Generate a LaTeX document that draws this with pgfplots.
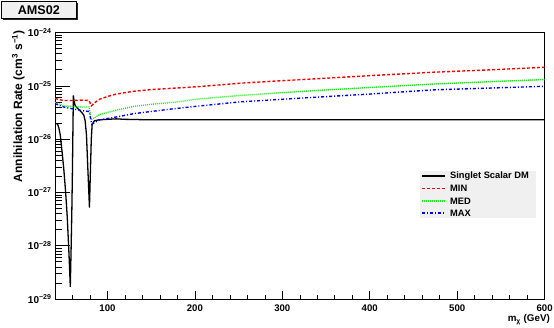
\documentclass[border=0pt]{standalone}
\usepackage{fontspec}
\setmainfont{Liberation Sans}
\usepackage{pgfplots}
\pgfplotsset{compat=1.18}
\definecolor{rootgreen}{RGB}{20,240,20}
\definecolor{paneback}{RGB}{240,240,240}
\begin{document}
\begin{tikzpicture}
\useasboundingbox (0pt,0pt) rectangle (554pt,328pt);
\begin{axis}[
  at={(55pt,29pt)}, anchor=south west,
  scale only axis, width=489.6pt, height=266.5pt,
  xmin=40, xmax=600, ymode=log, ymin=1e-29, ymax=1e-24,
  axis line style={black, line width=0.8pt},
  tick align=inside, xtick pos=bottom, ytick pos=left,
  xtick={100,200,300,400,500,600},
  minor xtick={60,80,120,140,160,180,220,240,260,280,320,340,360,380,420,440,460,480,520,540,560,580},
  ytick={1e-29,1e-28,1e-27,1e-26,1e-25,1e-24},
  yticklabels={10\textsuperscript{−29},10\textsuperscript{−28},10\textsuperscript{−27},10\textsuperscript{−26},10\textsuperscript{−25},10\textsuperscript{−24}},
  minor ytick={2e-29,3e-29,4e-29,5e-29,6e-29,7e-29,8e-29,9e-29,
               2e-28,3e-28,4e-28,5e-28,6e-28,7e-28,8e-28,9e-28,
               2e-27,3e-27,4e-27,5e-27,6e-27,7e-27,8e-27,9e-27,
               2e-26,3e-26,4e-26,5e-26,6e-26,7e-26,8e-26,9e-26,
               2e-25,3e-25,4e-25,5e-25,6e-25,7e-25,8e-25,9e-25},
  x tick style={black, line width=0.6pt, /pgfplots/major tick length=8pt, /pgfplots/minor tick length=4pt},
  y tick style={black, line width=0.6pt, /pgfplots/major tick length=14.6pt, /pgfplots/minor tick length=7.3pt},
  xticklabel style={font=\bfseries\fontsize{9.6}{11}\selectfont, yshift=-2.5pt},
  yticklabel style={font=\bfseries\fontsize{10}{12}\selectfont},
  /pgf/number format/assume math mode=true,
  scaled x ticks=false,
]
\addplot[black, line width=1.3pt] coordinates {
(40,1.95e-26) (42,1.95e-26) (43,1.9e-26) (44.5,1.6e-26) (46,1.2e-26) (48,6e-27)
(50,2.8e-27) (52,1.1e-27) (54,3.5e-28) (56,7e-29) (57.5,1.7e-29) (58.5,1e-28)
(59.3,5e-28) (60,3e-27) (60.5,1.5e-26) (61,6.6e-26) (61.8,5.2e-26) (63,4.3e-26)
(65,3.9e-26) (68,3.5e-26) (71,3.1e-26) (73,2.8e-26) (74.5,2.2e-26) (76,1.2e-26)
(77.5,3e-27) (79.4,5.2e-28) (80.5,2.5e-27) (81.5,1e-26) (82.5,1.9e-26) (85,2.2e-26)
(90,2.3e-26) (100,2.35e-26) (110,2.4e-26) (120,2.35e-26) (150,2.3e-26) (200,2.3e-26)
(300,2.3e-26) (400,2.3e-26) (500,2.3e-26) (600,2.3e-26)};
\addplot[color=red, line width=1.4pt, dash pattern=on 3pt off 2pt] coordinates {
(40,5.8e-26) (45,5.5e-26) (50,5.3e-26) (60,5.3e-26) (72,5.4e-26) (79,5.3e-26)
(81.5,4.2e-26) (86,4.9e-26) (91,5.6e-26) (100,6.3e-26) (110,7.0e-26) (130,7.9e-26)
(150,8.5e-26) (175,9.0e-26) (206,9.7e-26) (252,1.12e-25) (300,1.25e-25) (330,1.33e-25)
(400,1.55e-25) (473,1.8e-25) (540,2.0e-25) (600,2.23e-25)};
\addplot[color=rootgreen, line width=1.4pt, dash pattern=on 1pt off 1pt] coordinates {
(40,4.9e-26) (45,4.5e-26) (50,4.2e-26) (60,4.1e-26) (72,4.0e-26) (79,4.0e-26)
(81.5,2.3e-26) (91,2.9e-26) (110,3.5e-26) (130,4.1e-26) (150,4.5e-26) (175,4.9e-26)
(206,5.7e-26) (252,6.6e-26) (330,8.0e-26) (400,9.3e-26) (473,1.08e-25) (540,1.2e-25)
(600,1.31e-25)};
\addplot[color=blue, line width=1.4pt, dash pattern=on 3pt off 2pt on 1pt off 2pt] coordinates {
(40,4.6e-26) (45,4.3e-26) (50,4.0e-26) (60,3.7e-26) (72,3.4e-26) (79,3.3e-26)
(82,1.9e-26) (91,2.3e-26) (110,2.6e-26) (130,3.0e-26) (150,3.3e-26) (175,3.7e-26)
(206,4.2e-26) (252,5.0e-26) (330,6.0e-26) (400,7.0e-26) (473,8.4e-26) (540,9.1e-26)
(600,9.8e-26)};
\end{axis}
% legend
\fill[paneback] (420pt,110pt) rectangle (536pt,157pt);
\draw[black, line width=1.2pt] (422pt,152pt) -- (445pt,152pt);
\draw[red, line width=1.2pt, dash pattern=on 3pt off 2pt] (422pt,139.5pt) -- (445pt,139.5pt);
\draw[rootgreen, line width=1.2pt, dash pattern=on 1pt off 1pt] (422pt,127pt) -- (445pt,127pt);
\draw[blue, line width=1.2pt, dash pattern=on 3pt off 2pt on 1pt off 2pt] (422pt,115pt) -- (445pt,115pt);
\begin{scope}[every node/.style={anchor=west, inner sep=0, font=\bfseries\fontsize{9.3}{11}\selectfont}]
\node at (450pt,152pt) {Singlet Scalar DM};
\node at (450pt,139.5pt) {MIN};
\node at (450pt,127pt) {MED};
\node at (450pt,115pt) {MAX};
\end{scope}
% title pave
\fill[black!85] (3.2pt,308.2pt) rectangle (77.5pt,324.8pt);
\filldraw[fill=paneback, draw=black, line width=0.5pt] (1.7pt,309.7pt) rectangle (76pt,326.3pt);
\node[font=\bfseries\fontsize{12.6}{14}\selectfont, inner sep=0] at (38.8pt,318pt) {AMS02};
% axis titles
\node[rotate=90, anchor=east, inner sep=0, font=\bfseries\fontsize{12}{14}\selectfont] at (18.3pt,298pt)
  {Annihilation Rate (cm\textsuperscript{3} s\textsuperscript{−1})};
\node[anchor=east, inner sep=0, font=\bfseries\fontsize{9.8}{11}\selectfont] at (550pt,8.5pt)
  {m\textsubscript{χ} (GeV)};
\end{tikzpicture}
\end{document}
